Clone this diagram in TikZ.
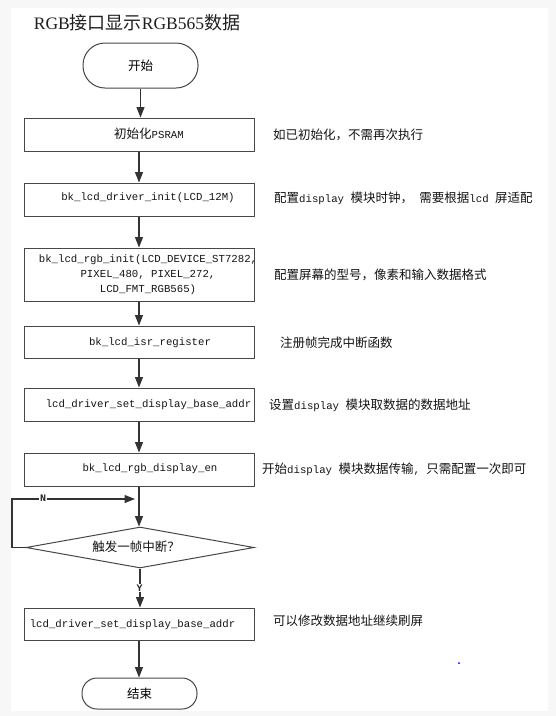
\documentclass[tikz,border=0pt]{standalone}
\usepackage{fontspec}
\setmainfont{Liberation Mono}
\newfontfamily\cjkf{Noto Sans CJK SC}
\newfontfamily\monof{Liberation Mono}
\newfontfamily\seriff{Liberation Serif}
\usetikzlibrary{shapes.geometric,arrows.meta}
\newcommand\zh[1]{{\cjkf\fontsize{12.5}{15}\selectfont #1}}
\newcommand\zhT[1]{{\cjkf\fontsize{18}{22}\selectfont #1}}
\newcommand\laT[1]{{\seriff\fontsize{17.5}{22}\selectfont #1}}
\begin{document}
\begin{tikzpicture}[x=1pt,y=-1pt,
  line/.style={draw=black!80, line width=1.05pt},
  arr/.style={line, -{Triangle[length=10.5pt,width=8pt]}},
  box/.style={rectangle, draw=black!72, line width=1pt, minimum width=230pt, inner sep=0pt},
  term/.style={rectangle, draw=black!72, line width=1pt, minimum width=115pt, inner sep=0pt},
  code/.style={font=\monof\fontsize{10.7}{15}\selectfont, text=black!92, inner sep=0pt},
  note/.style={anchor=west, font=\monof\fontsize{10.7}{15}\selectfont, text=black!92, inner sep=0pt},
  yn/.style={font=\monof\fontsize{10}{12}\selectfont\bfseries, text=black!85, fill=white, inner sep=1pt}]
\useasboundingbox (0,0) rectangle (556,716);
\fill[black!3] (0,0) rectangle (556,716);
\fill[white] (11,8) rectangle (548,711);

% title
\node[inner sep=0pt, text=black!88] (title) at (137,23) {\laT{RGB}\zhT{接口显示}\laT{RGB565}\zhT{数据}};

% terminals and boxes
\node[term, minimum height=45pt, rounded corners=22pt] (start) at (140.5,65.5) {\zh{开始}};
\node[box, minimum height=33pt] (b1) at (139,134.5) {};
\node[box, minimum height=33pt] (b2) at (139,199.5) {};
\node[box, minimum height=53pt] (b3) at (139,274.5) {};
\node[box, minimum height=32pt] (b4) at (139,342) {};
\node[box, minimum height=33pt] (b5) at (139,404.5) {};
\node[box, minimum height=33pt] (b6) at (139,469.5) {};
\node[diamond, draw=black!72, line width=1pt, inner sep=0pt, minimum width=228pt, minimum height=41pt] (d) at (140,547.5) {};
\node[box, minimum height=32pt] (b7) at (139,624) {};
\node[term, minimum height=31pt, rounded corners=15pt] (end) at (139.5,693.5) {\zh{结束}};

% box texts
\node[code] (t1) at (149,134) {\zh{初始化}PSRAM};
\node[code] (t2) at (148,198) {bk\_lcd\_driver\_init(LCD\_12M)};
\node[code, align=center] (t3) at (148,275) {bk\_lcd\_rgb\_init(LCD\_DEVICE\_ST7282,\\PIXEL\_480, PIXEL\_272,\\LCD\_FMT\_RGB565)};
\node[code] (t4) at (150,343) {bk\_lcd\_isr\_register};
\node[code] (t5) at (148.5,405) {lcd\_driver\_set\_display\_base\_addr};
\node[code] (t6) at (150,469) {bk\_lcd\_rgb\_display\_en};
\node[code] (td) at (136,547) {\zh{触发一帧中断？}};
\node[code] (t7) at (132.5,625) {lcd\_driver\_set\_display\_base\_addr};

% notes
\node[note] (n1) at (273,135) {\zh{如已初始化，不需再次执行}};
\node[note] (n2) at (274,198) {\zh{配置}display \zh{模块时钟，} \zh{需要根据}lcd \zh{屏适配}};
\node[note] (n3) at (274,275) {\zh{配置屏幕的型号，像素和输入数据格式}};
\node[note] (n4) at (280,343) {\zh{注册帧完成中断函数}};
\node[note] (n5) at (269,405) {\zh{设置}display \zh{模块取数据的数据地址}};
\node[note] (n6) at (262,469) {\zh{开始}display \zh{模块数据传输}, \zh{只需配置一次即可}};
\node[note] (n7) at (273,621) {\zh{可以修改数据地址继续刷屏}};

% connectors
\draw[arr] (start.south) -- (start.south |- b1.north);
\draw[arr] (b1.south) -- (b2.north);
\draw[arr] (b2.south) -- (b3.north);
\draw[arr] (b3.south) -- (b4.north);
\draw[arr] (b4.south) -- (b5.north);
\draw[arr] (b5.south) -- (b6.north);
\draw[arr] (b6.south) -- (b6.south |- d.north);
\coordinate (lc) at (12,499);
\coordinate (le) at (135,499);
\draw[arr] (d.west) -| (lc) -- (le);
\node[yn] (nlab) at (43,498) {N};
\draw[arr] (d.south) -- (d.south |- b7.north);
\node[yn] (ylab) at (139.5,588) {Y};
\draw[arr] (b7.south) -- (b7.south |- end.north);

% stray dot
\fill[blue!80!black] (459,663) circle (1pt);
\end{tikzpicture}
\end{document}
